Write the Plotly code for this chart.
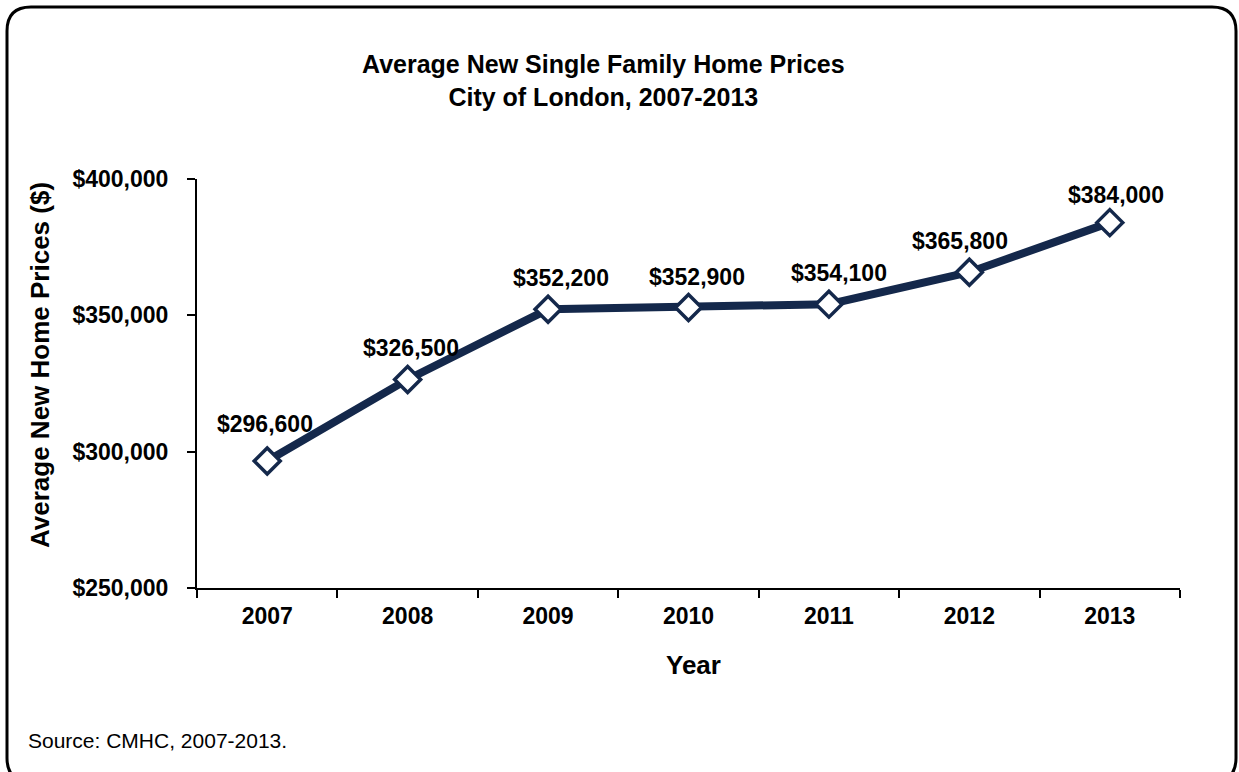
import plotly.graph_objects as go

# Average new single family home prices, City of London (CMHC)
years = ["2007", "2008", "2009", "2010", "2011", "2012", "2013"]
prices = [296600, 326500, 352200, 352900, 354100, 365800, 384000]
# small manual nudges of the data labels (pixels), as placed in the original
label_dx = [-2, 3, 13, 8, 10, -9, 6]
label_dy = [37, 31, 31, 30, 31, 31, 28]

W, H = 1239, 772
L, T, R, B = 197, 179, 1180, 588  # plot area in pixels
NAVY = "#14284B"
FONT = "Liberation Sans, Arial, sans-serif"

pos = list(range(len(years)))  # category slots on a linear axis
bounds = [p - 0.5 for p in pos] + [pos[-1] + 0.5]


def fx(px):
    return (px - L) / (R - L)


def fy(py):
    return (B - py) / (B - T)


fig = go.Figure()
fig.add_trace(go.Scatter(
    x=pos, y=prices, mode="lines+markers",
    line=dict(color=NAVY, width=8),
    marker=dict(symbol="diamond", size=20, color="white",
                line=dict(color=NAVY, width=3.5)),
    text=years, hovertemplate="%{text}: $%{y:,}<extra></extra>", showlegend=False,
))

for p, v, dx, dy in zip(pos, prices, label_dx, label_dy):
    fig.add_annotation(x=p, y=v, text=f"${v:,}", showarrow=False,
                       xshift=dx, yshift=dy, yanchor="middle",
                       font=dict(family=FONT, size=23, color="black", weight="bold"))

# titles and source
fig.add_annotation(xref="paper", yref="paper", x=fx(603), y=fy(80),
                   text="Average New Single Family Home Prices<br>City of London, 2007-2013",
                   showarrow=False, xanchor="center", yanchor="middle",
                   font=dict(family=FONT, size=25, color="black", weight="bold"))
fig.add_annotation(xref="paper", yref="paper", x=fx(40), y=fy(365),
                   text="Average New Home Prices ($)", textangle=-90,
                   showarrow=False, xanchor="center", yanchor="middle",
                   font=dict(family=FONT, size=26, color="black", weight="bold"))
fig.add_annotation(xref="paper", yref="paper", x=fx(693), y=fy(665),
                   text="Year", showarrow=False, xanchor="center", yanchor="middle",
                   font=dict(family=FONT, size=26, color="black", weight="bold"))
fig.add_annotation(xref="paper", yref="paper", x=fx(26), y=fy(740),
                   text="Source: CMHC, 2007-2013.", showarrow=False,
                   xanchor="left", yanchor="middle",
                   font=dict(family=FONT, size=21, color="black"))

# rounded outer frame (runs off the bottom/right edge like the original)
x0, x1, y0, y1, r = 7, 1236, 7, 782, 24
path = (f"M {fx(x0 + r)},{fy(y0)} L {fx(x1 - r)},{fy(y0)} "
        f"Q {fx(x1)},{fy(y0)} {fx(x1)},{fy(y0 + r)} "
        f"L {fx(x1)},{fy(y1 - r)} Q {fx(x1)},{fy(y1)} {fx(x1 - r)},{fy(y1)} "
        f"L {fx(x0 + r)},{fy(y1)} Q {fx(x0)},{fy(y1)} {fx(x0)},{fy(y1 - r)} "
        f"L {fx(x0)},{fy(y0 + r)} Q {fx(x0)},{fy(y0)} {fx(x0 + r)},{fy(y0)} Z")
fig.add_shape(type="path", path=path, xref="paper", yref="paper",
              line=dict(color="black", width=3), layer="above")

fig.update_xaxes(range=[bounds[0], bounds[-1]], tickvals=pos, ticktext=years,
                 ticks="", showline=True, linecolor="black", linewidth=2,
                 minor=dict(tickvals=bounds, ticks="outside", ticklen=8,
                            tickwidth=1.5, tickcolor="black", showgrid=False),
                 ticklabelstandoff=6, showgrid=False, zeroline=False,
                 tickfont=dict(family=FONT, size=23, color="black", weight="bold"))
fig.update_yaxes(range=[250000, 400000], tickvals=[250000, 300000, 350000, 400000],
                 tickformat="$,.0f", showline=True, linecolor="black", linewidth=2,
                 ticks="outside", ticklen=8, tickwidth=1.5, tickcolor="black",
                 ticklabelstandoff=14, showgrid=False, zeroline=False,
                 tickfont=dict(family=FONT, size=23, color="black", weight="bold"))

fig.update_layout(width=W, height=H, plot_bgcolor="white", paper_bgcolor="white",
                  margin=dict(l=L, r=W - R, t=T, b=H - B),
                  font=dict(family=FONT, color="black"))

fig.write_html("out.html", config={"displayModeBar": False},
               post_script="document.body.style.margin='0';")
